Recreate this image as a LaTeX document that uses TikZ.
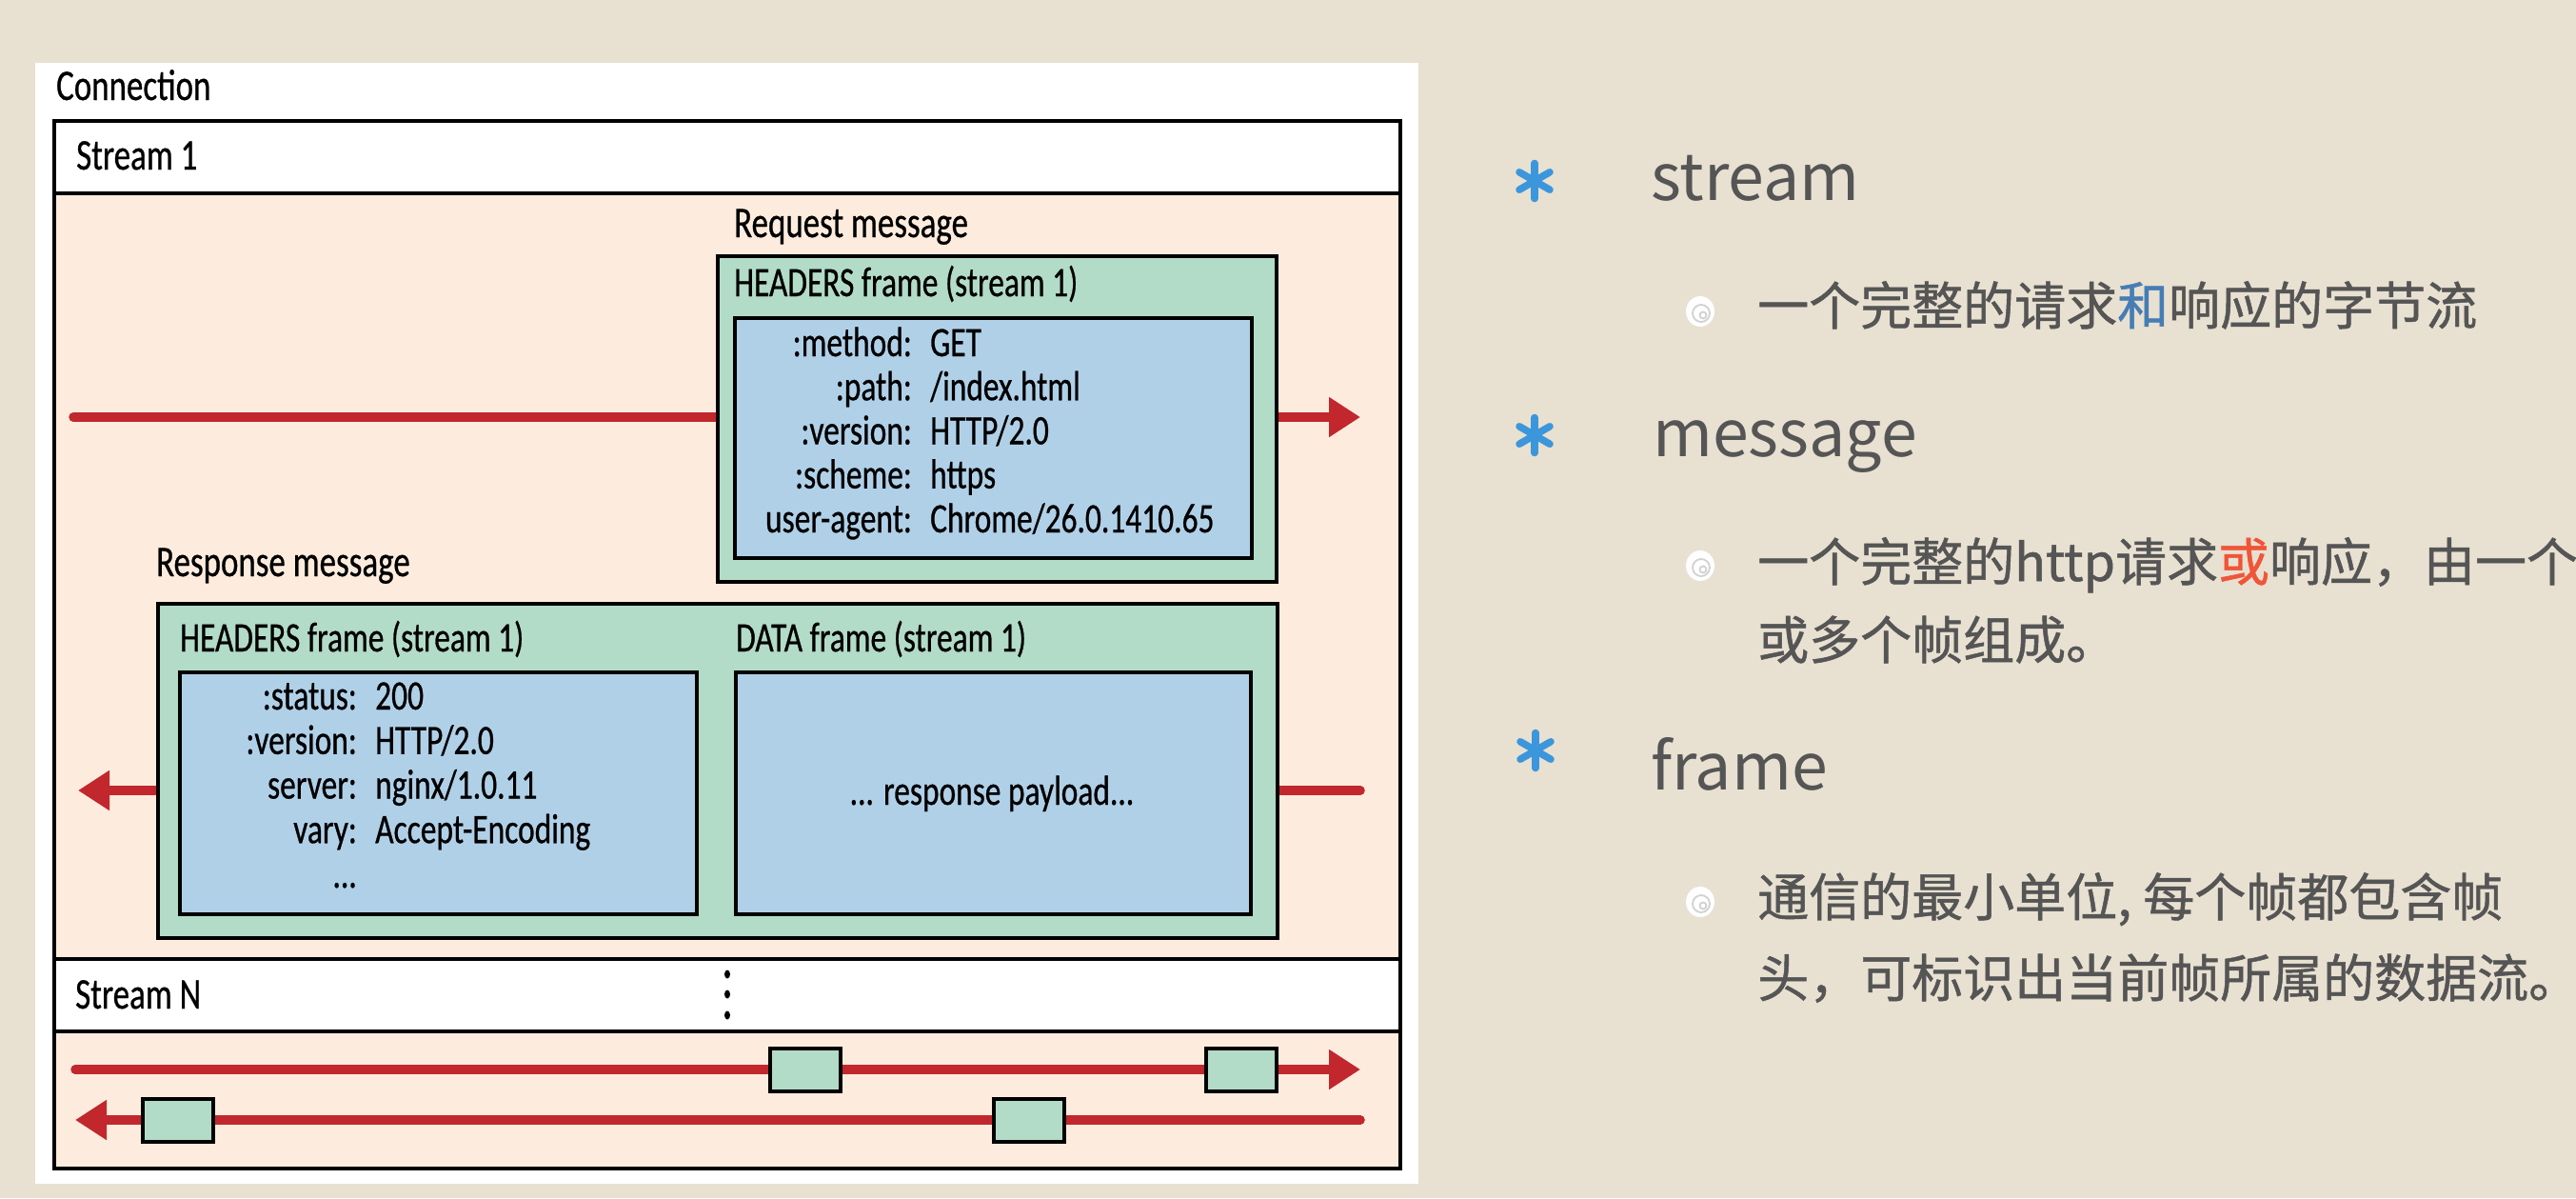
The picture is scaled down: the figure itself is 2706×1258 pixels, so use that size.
\documentclass[tikz,border=0pt]{standalone}
\usepackage{fontspec}
\usetikzlibrary{arrows.meta}
\newfontfamily\diagfont[FakeStretch=0.76,FakeBold=0.6]{Carlito}
\newfontfamily\cjkfont{Noto Sans CJK SC}
\newfontfamily\cjksubfont[FakeBold=0.9]{Noto Sans CJK SC}
\definecolor{bgbeige}{RGB}{232,224,209}
\definecolor{peach}{RGB}{253,236,222}
\definecolor{mint}{RGB}{178,219,200}
\definecolor{skyb}{RGB}{176,208,232}
\definecolor{arrowred}{RGB}{193,39,45}
\definecolor{txtgray}{RGB}{85,85,85}
\definecolor{starblue}{RGB}{60,150,220}
\definecolor{hlblue}{RGB}{70,125,180}
\definecolor{hlred}{RGB}{240,85,55}
\begin{document}
\begin{tikzpicture}[x=1pt,y=-1pt,
  boxline/.style={draw=black, line width=4pt},
  greenbox/.style={boxline, fill=mint, rectangle, inner sep=0pt, anchor=north west},
  bluebox/.style={boxline, fill=skyb, rectangle, inner sep=0pt, anchor=north west},
  chip/.style={boxline, fill=mint, rectangle, inner sep=0pt, minimum width=74pt, minimum height=45pt, anchor=center},
  redarrow/.style={draw=arrowred, line width=9.5pt, line cap=round, -{Triangle[length=33pt,width=40pt]}},
  lbl/.style={inner sep=0pt, anchor=base west, text=black, font=\diagfont\fontsize{46}{52}\selectfont},
  dtxt/.style={inner sep=0pt, text=black, font=\diagfont\fontsize{44}{50}\selectfont},
  keyt/.style={dtxt, anchor=base east},
  valt/.style={dtxt, anchor=base west},
  head/.style={inner sep=0pt, anchor=base west, text=txtgray, font=\cjkfont\fontsize{68}{76}\selectfont},
  sub/.style={inner sep=0pt, anchor=base west, text=txtgray, font=\cjksubfont\fontsize{54}{60}\selectfont},
  astk/.pic={\foreach \a in {90,30,150} \draw[starblue, line width=7.5pt, line cap=round] (\a:18.5) -- (\a+180:18.5);},
  swirl/.pic={\fill[white!97!bgbeige] (0,0) ellipse [x radius=15, y radius=16];
              \draw[black!18, line width=1.8pt] (1,2) circle [radius=9];
              \draw[black!18, line width=1.8pt] (3,4) circle [radius=3.5];}
]
\clip (0,0) rectangle (2706,1258);
\fill[bgbeige] (0,0) rectangle (2706,1258);
% white panel
\fill[white] (37,66) rectangle (1490,1243);
\node[lbl] (conn) at (59,105) {Connection};
% stream bands
\fill[white] (57,127) rectangle (1471,203);
\fill[peach] (57,203) rectangle (1471,1007);
\fill[white] (57,1007) rectangle (1471,1083);
\fill[peach] (57,1083) rectangle (1471,1227);
\draw[line width=4pt] (57,203) -- (1471,203);
\draw[line width=4pt] (57,1007) -- (1471,1007);
\draw[line width=4pt] (57,1083) -- (1471,1083);
\draw[line width=4pt] (57,127) rectangle (1471,1227);
\node[lbl] (s1) at (80,178) {Stream 1};
\node[lbl] (sn) at (79,1059) {Stream N};
% vertical dots
\foreach \yy in {1023,1044,1066} \fill (764,\yy) ellipse [x radius=3, y radius=4.5];
% arrows of stream 1
\coordinate (a1s) at (77,438);
\coordinate (a1e) at (1429,438);
\coordinate (a2s) at (1429,830);
\coordinate (a2e) at (82,830);
\draw[redarrow] (a1s) -- (a1e);
\draw[redarrow] (a2s) -- (a2e);
% request message
\node[lbl] (reqlbl) at (771,249) {Request message};
\node[greenbox, minimum width=587pt, minimum height=342pt] (reqbox) at (752,267) {};
\node[dtxt, anchor=base west] (reqhd) at (771,311) {HEADERS frame (stream 1)};
\node[bluebox, minimum width=543pt, minimum height=252pt] (reqblue) at (770,332) {};
\foreach \k/\v [count=\i] in {{:method:}/{GET},{:path:}/{/index.html},{:version:}/{HTTP/2.0},{:scheme:}/{https},{user-agent:}/{Chrome/26.0.1410.65}}{
  \node[keyt] (rqk\i) at (958,{374+(\i-1)*46.25}) {\k};
  \node[valt] (rqv\i) at (977,{374+(\i-1)*46.25}) {\v};
}
% response message
\node[lbl] (reslbl) at (164,605) {Response message};
\node[greenbox, minimum width=1176pt, minimum height=351pt] (resbox) at (164,632) {};
\node[dtxt, anchor=base west] (reshd) at (189,684) {HEADERS frame (stream 1)};
\node[dtxt, anchor=base west] (datahd) at (773,684) {DATA frame (stream 1)};
\node[bluebox, minimum width=543pt, minimum height=254pt] (resblue) at (187,704) {};
\node[bluebox, minimum width=541pt, minimum height=254pt] (datablue) at (771,704) {};
\foreach \k/\v [count=\i] in {{:status:}/{200},{:version:}/{HTTP/2.0},{server:}/{nginx/1.0.11},{vary:}/{Accept-Encoding}}{
  \node[keyt] (rsk\i) at (375,{745+(\i-1)*46.75}) {\k};
  \node[valt] (rsv\i) at (394,{745+(\i-1)*46.75}) {\v};
}
\node[keyt] (rsk5) at (375,932) {...};
\node[dtxt, anchor=base] (payload) at (1042,845) {... response payload...};
% stream N lines
\coordinate (b1s) at (79,1123);
\coordinate (b1e) at (1429,1123);
\coordinate (b2s) at (1429,1176);
\coordinate (b2e) at (79,1176);
\draw[redarrow] (b1s) -- (b1e);
\draw[redarrow] (b2s) -- (b2e);
\node[chip] (c1) at (846,1123) {};
\node[chip] (c2) at (1304,1123) {};
\node[chip] (c3) at (187,1176) {};
\node[chip] (c4) at (1081,1176) {};
% right side text
\pic at (1612,190) {astk};
\pic at (1612,457) {astk};
\pic at (1613,788) {astk};
\node[head] (hstream) at (1734,210) {stream};
\node[head] (hmessage) at (1736,479) {message};
\node[head] (hframe) at (1734,829) {frame};
\pic at (1786,327) {swirl};
\pic at (1786,594) {swirl};
\pic at (1786,947) {swirl};
\node[sub] (t1) at (1846,341) {一个完整的请求{\color{hlblue}和}响应的字节流};
\node[sub] (t2) at (1846,610) {一个完整的http请求{\color{hlred}或}响应，由一个};
\node[sub] (t3) at (1846,692) {或多个帧组成。};
\node[sub] (t4) at (1846,962) {通信的最小单位, 每个帧都包含帧};
\node[sub] (t5) at (1846,1047) {头，可标识出当前帧所属的数据流。};
\end{tikzpicture}
\end{document}
